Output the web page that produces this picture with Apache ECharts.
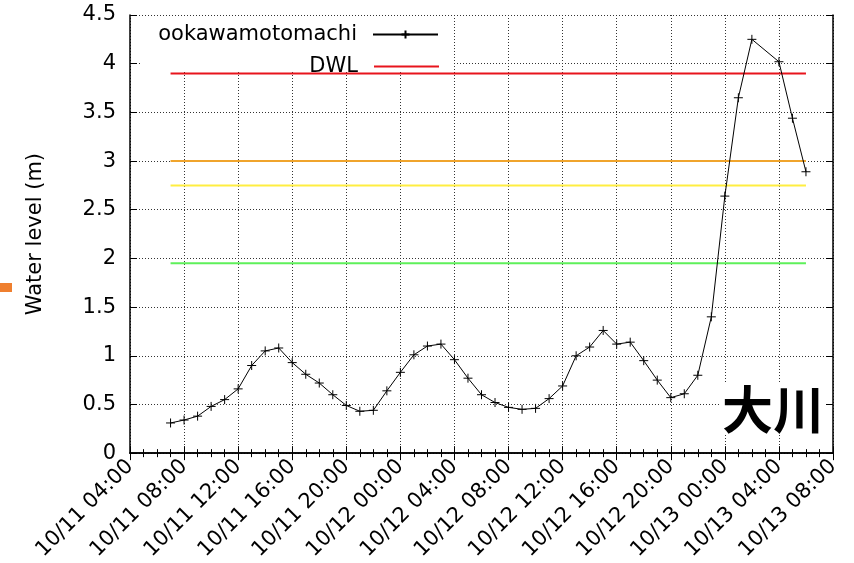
<!DOCTYPE html>
<html>
<head>
<meta charset="utf-8">
<script src="https://cdn.jsdelivr.net/npm/echarts@6/dist/echarts.min.js"></script>
<style>
  html, body { margin: 0; padding: 0; background: #fff; }
  #box { width: 854px; height: 563px; }
</style>
</head>
<body>
<div id="box"></div>
<script>
// 観測時刻 (10/13 03:00 は欠測)
var times = [
  '10/11 07:00','10/11 08:00','10/11 09:00','10/11 10:00','10/11 11:00','10/11 12:00',
  '10/11 13:00','10/11 14:00','10/11 15:00','10/11 16:00','10/11 17:00','10/11 18:00',
  '10/11 19:00','10/11 20:00','10/11 21:00','10/11 22:00','10/11 23:00','10/12 00:00',
  '10/12 01:00','10/12 02:00','10/12 03:00','10/12 04:00','10/12 05:00','10/12 06:00',
  '10/12 07:00','10/12 08:00','10/12 09:00','10/12 10:00','10/12 11:00','10/12 12:00',
  '10/12 13:00','10/12 14:00','10/12 15:00','10/12 16:00','10/12 17:00','10/12 18:00',
  '10/12 19:00','10/12 20:00','10/12 21:00','10/12 22:00','10/12 23:00','10/13 00:00',
  '10/13 01:00','10/13 02:00','10/13 04:00','10/13 05:00','10/13 06:00'
];
// 水位 (m)
var levels = [
  0.31, 0.34, 0.38, 0.48, 0.55, 0.66,
  0.90, 1.05, 1.08, 0.93, 0.81, 0.72,
  0.60, 0.49, 0.43, 0.44, 0.64, 0.83,
  1.01, 1.10, 1.12, 0.96, 0.77, 0.60,
  0.52, 0.47, 0.45, 0.46, 0.56, 0.69,
  1.00, 1.09, 1.26, 1.12, 1.14, 0.95,
  0.75, 0.57, 0.61, 0.80, 1.40, 2.64,
  3.65, 4.25, 4.02, 3.44, 2.89
];
// 基準水位
var lineNames = ['DWL', 'level2', 'level3', 'level4'];
var lineLevels = [3.9, 3.0, 2.75, 1.95];
var lineColors = ['#e8141c', '#f0a42c', '#ffee40', '#5ef05a'];

var xTicks = ['10/11 04:00','10/11 08:00','10/11 12:00','10/11 16:00','10/11 20:00',
  '10/12 00:00','10/12 04:00','10/12 08:00','10/12 12:00','10/12 16:00','10/12 20:00',
  '10/13 00:00','10/13 04:00','10/13 08:00'];
var yTicks = ['0','0.5','1','1.5','2','2.5','3','3.5','4','4.5'];

// "10/12 05:00" -> hours from 10/11 00:00
function toHour(s) {
  var d = parseInt(s.slice(3, 5), 10), h = parseInt(s.slice(6, 8), 10);
  return (d - 11) * 24 + h;
}

var font = 'DejaVu Sans';
var xMin = toHour(xTicks[0]), xMax = toHour(xTicks[xTicks.length - 1]);
var first = toHour(times[0]), last = toHour(times[times.length - 1]);
var dots = { color: '#333', width: 1, type: [1, 2] };

var series = [];
lineNames.forEach(function (n, i) {
  series.push({
    name: n, type: 'line', symbol: 'none', z: 2,
    lineStyle: { color: lineColors[i], width: 2 },
    itemStyle: { color: lineColors[i] },
    data: [[first, lineLevels[i]], [last, lineLevels[i]]]
  });
});
series.push({
  name: 'ookawamotomachi', type: 'line', z: 3,
  symbol: 'path://M0,5L10,5M5,0L5,10', symbolSize: 9,
  lineStyle: { color: '#000', width: 1 },
  itemStyle: { color: '#000', borderColor: '#000', borderWidth: 1 },
  data: times.map(function (t, i) { return [toHour(t), levels[i]]; })
});

var myChart = echarts.init(document.getElementById('box'));
myChart.setOption({
  animation: false,
  textStyle: { fontFamily: font },
  grid: { left: 130, right: 21, top: 15, bottom: 109 },
  legend: [
    {
      data: ['ookawamotomachi'], right: 415, top: 24, padding: 0,
      align: 'right', itemWidth: 65, itemHeight: 10,
      textStyle: { fontFamily: font, fontSize: 21, color: '#000', lineHeight: 20, padding: [0, 11, 0, 0] }
    },
    {
      data: [{ name: 'DWL', icon: 'rect' }], right: 415, top: 47, padding: [9, 0, 9, 0],
      align: 'right', itemWidth: 65, itemHeight: 2,
      textStyle: { fontFamily: font, fontSize: 21, color: '#000', lineHeight: 20, padding: [0, 11, 0, 0] }
    }
  ],
  xAxis: [
    {
      type: 'value', min: xMin, max: xMax, interval: 4,
      axisLine: { lineStyle: { color: '#000', width: 1.5 } },
      axisTick: { inside: true, length: 7, lineStyle: { color: '#000' } },
      minorTick: { show: true, splitNumber: 4, length: 4, lineStyle: { color: '#000' } },
      splitLine: { show: true, lineStyle: dots },
      axisLabel: {
        rotate: 45, margin: 10, color: '#000', fontSize: 21, fontFamily: font,
        formatter: function (v) { return xTicks[Math.round((v - xMin) / 4)]; }
      }
    },
    {
      type: 'value', position: 'top', min: xMin, max: xMax, interval: 4,
      axisLine: { show: true, lineStyle: { color: '#000', width: 1.5 } },
      axisTick: { show: true, inside: true, length: 7, lineStyle: { color: '#000' } },
      minorTick: { show: true, splitNumber: 4, length: 4, lineStyle: { color: '#000' } },
      splitLine: { show: false }, axisLabel: { show: false }
    }
  ],
  yAxis: [
    {
      type: 'value', min: 0, max: 4.5, interval: 0.5,
      name: 'Water level (m)', nameLocation: 'middle', nameGap: 84,
      nameTextStyle: { color: '#000', fontSize: 21, fontFamily: font },
      axisLine: { show: true, lineStyle: { color: '#000', width: 1.5 } },
      axisTick: { show: true, inside: true, length: 7, lineStyle: { color: '#000' } },
      splitLine: { show: true, lineStyle: dots },
      axisLabel: {
        margin: 14, color: '#000', fontSize: 21, fontFamily: font,
        formatter: function (v) { return yTicks[Math.round(v / 0.5)]; }
      }
    },
    {
      type: 'value', position: 'right', min: 0, max: 4.5, interval: 0.5,
      axisLine: { show: true, lineStyle: { color: '#000', width: 1.5 } },
      axisTick: { show: true, inside: true, length: 7, lineStyle: { color: '#000' } },
      splitLine: { show: false }, axisLabel: { show: false }
    }
  ],
  graphic: [
    { type: 'rect', z: 3, shape: { x: 142, y: 16, width: 312, height: 54 }, style: { fill: '#fff' } },
    { type: 'rect', z: 3, shape: { x: 0, y: 283, width: 12, height: 9 }, style: { fill: '#ef7f2f' } },
    {
      type: 'text', z: 10, x: 720, y: 384,
      style: {
        text: '大川', fill: '#000', backgroundColor: '#fff', padding: [0, 2],
        font: 'bold 51px "Noto Sans CJK JP"'
      }
    }
  ],
  series: series
});
</script>
</body>
</html>
